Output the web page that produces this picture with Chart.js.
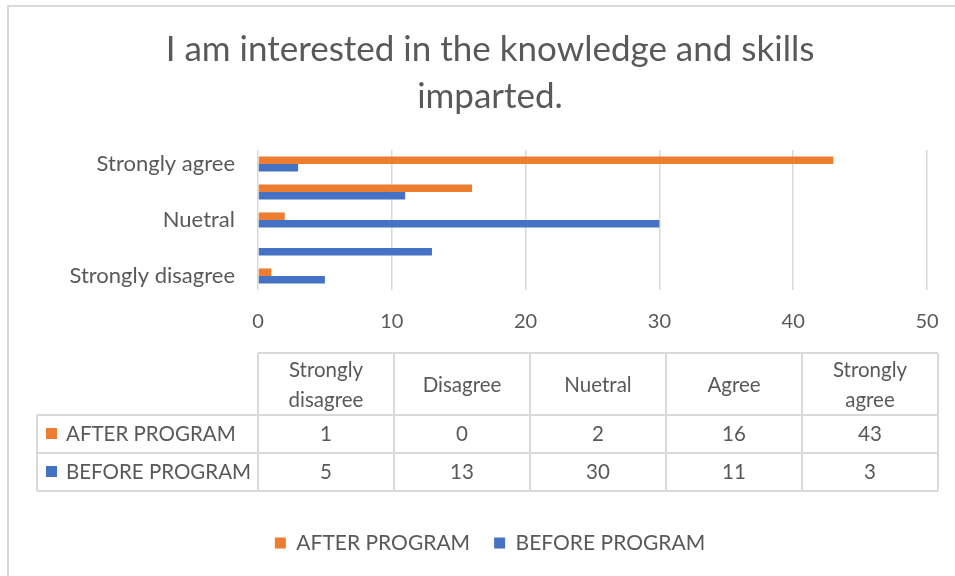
<!DOCTYPE html>
<html><head><meta charset="utf-8">
<script src="https://cdn.jsdelivr.net/npm/chart.js@4.4.1/dist/chart.umd.min.js"></script>
<style>html,body{margin:0;padding:0;background:#fff;overflow:hidden}#wrap{width:955px;height:576px;position:relative}</style>
</head><body><div id="wrap"><canvas id="c" width="955" height="576"></canvas></div>
<script>
const categories = ['Strongly disagree', 'Disagree', 'Nuetral', 'Agree', 'Strongly agree'];
const afterProgram = [1, 0, 2, 16, 43];
const beforeProgram = [5, 13, 30, 11, 3];
const seriesNames = ['AFTER PROGRAM', 'BEFORE PROGRAM'];
const xTickValues = [0, 10, 20, 30, 40, 50];
const titleLines = ['I am interested in the knowledge and skills', 'imparted.'];

const FONT = 'Lato, "Open Sans", sans-serif';
const TEXT = '#595959';
const GRID = '#d9d9d9';
const ORANGE = '#ED7D31';
const BLUE = '#4472C4';

const framePlugin = {
  id: 'frame',
  beforeDraw(chart) {
    const ctx = chart.ctx;
    ctx.save();
    ctx.fillStyle = '#fff';
    ctx.fillRect(0, 0, chart.width, chart.height);
    ctx.strokeStyle = GRID;
    ctx.lineWidth = 2;
    ctx.strokeRect(8, 6, 2000, 2000);
    ctx.restore();
  }
};

const tablePlugin = {
  id: 'dataTable',
  afterDraw(chart) {
    const ctx = chart.ctx;
    const ca = chart.chartArea;
    const x0 = 258;
    const colW = 136;
    const left = 37;
    const right = x0 + colW * categories.length;
    const yTop = ca.bottom + 63;
    const yH = yTop + 62;
    const y1 = yH + 38;
    const y2 = y1 + 38;
    ctx.save();
    ctx.strokeStyle = GRID;
    ctx.lineWidth = 2;
    ctx.beginPath();
    ctx.moveTo(x0, yTop); ctx.lineTo(right, yTop);
    [yH, y1, y2].forEach(y => { ctx.moveTo(left, y); ctx.lineTo(right, y); });
    for (let k = 0; k <= categories.length; k++) {
      ctx.moveTo(x0 + k * colW, yTop); ctx.lineTo(x0 + k * colW, y2);
    }
    ctx.moveTo(left, yH); ctx.lineTo(left, y2);
    ctx.stroke();

    ctx.fillStyle = TEXT;
    ctx.font = '20.5px ' + FONT;
    ctx.textAlign = 'center';
    ctx.textBaseline = 'middle';
    const hc = (yTop + yH) / 2 + 1;
    categories.forEach((c, i) => {
      const cx = x0 + colW * (i + 0.5);
      if (ctx.measureText(c).width > colW - 30 && c.indexOf(' ') > 0) {
        const p = c.split(' ');
        ctx.fillText(p[0], cx, hc - 15);
        ctx.fillText(p.slice(1).join(' '), cx, hc + 15);
      } else {
        ctx.fillText(c, cx, hc);
      }
    });
    const rows = [[afterProgram, ORANGE, y1], [beforeProgram, BLUE, y2]];
    rows.forEach(([vals, col, yb], r) => {
      const cy = yb - 19;
      vals.forEach((v, i) => {
        ctx.fillStyle = TEXT;
        ctx.textAlign = 'center';
        ctx.fillText(String(v), x0 + colW * (i + 0.5), cy);
      });
      ctx.fillStyle = col;
      ctx.fillRect(left + 9, cy - 6, 11, 11);
      ctx.fillStyle = TEXT;
      ctx.textAlign = 'left';
      ctx.fillText(seriesNames[r], left + 29, cy);
    });
    ctx.restore();
  }
};

new Chart(document.getElementById('c'), {
  type: 'bar',
  data: {
    labels: categories,
    datasets: [
      { label: seriesNames[0], data: afterProgram, backgroundColor: ORANGE, borderWidth: 0 },
      { label: seriesNames[1], data: beforeProgram, backgroundColor: BLUE, borderWidth: 0 }
    ]
  },
  options: {
    indexAxis: 'y',
    responsive: false,
    animation: false,
    devicePixelRatio: 1,
    categoryPercentage: 0.54,
    barPercentage: 1,
    layout: { padding: { left: 53, right: 28, top: 0, bottom: 12.5 } },
    plugins: {
      title: {
        display: true,
        text: titleLines,
        color: TEXT,
        font: { family: FONT, size: 35, weight: 'normal', lineHeight: 1.343 },
        padding: { top: 26.5, bottom: 29.5 }
      },
      legend: {
        position: 'bottom',
        labels: {
          color: TEXT,
          font: { family: FONT, size: 21 },
          boxWidth: 11,
          boxHeight: 11,
          padding: 24
        }
      },
      tooltip: { enabled: false }
    },
    scales: {
      x: {
        type: 'linear',
        min: xTickValues[0],
        max: xTickValues[xTickValues.length - 1],
        afterBuildTicks(scale) { scale.ticks = xTickValues.map(v => ({ value: v })); },
        afterFit(scale) { scale.height = 218.5; scale.paddingRight = 0; scale.paddingLeft = 0; },
        grid: { color: GRID, lineWidth: 1.5, drawTicks: false },
        border: { display: false },
        ticks: { color: TEXT, font: { family: FONT, size: 20 }, padding: 20 }
      },
      y: {
        reverse: true,
        afterFit(scale) { scale.width = 205; },
        grid: { display: false, drawTicks: false },
        border: { display: false },
        ticks: {
          color: TEXT,
          font: { family: FONT, size: 22 },
          padding: 23,
          autoSkip: false,
          callback(v, i) { return i % 2 === 0 ? categories[i] : ''; }
        }
      }
    }
  },
  plugins: [framePlugin, tablePlugin]
});
</script>
</body></html>
